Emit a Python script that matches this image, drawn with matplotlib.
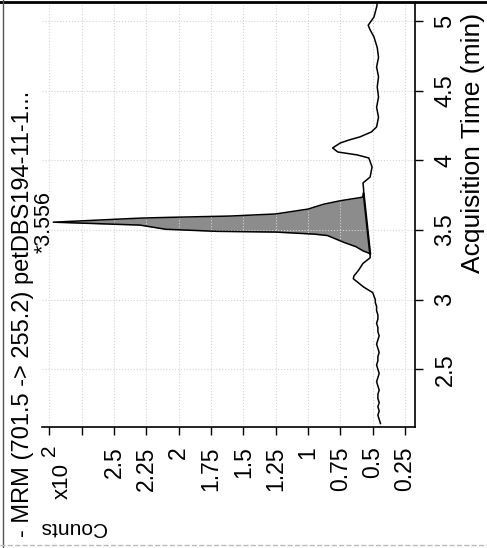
import matplotlib
matplotlib.use("Agg")
import matplotlib.pyplot as plt
from matplotlib.lines import Line2D
import numpy as np

plt.rcParams["font.family"] = ["Liberation Sans", "DejaVu Sans"]

# chromatogram trace (time in min, counts x10^2)
time_min = [2.11, 2.14, 2.17, 2.20, 2.23, 2.26, 2.29, 2.32, 2.35, 2.38,
            2.41, 2.44, 2.47, 2.50, 2.53, 2.56, 2.59, 2.62, 2.65, 2.68,
            2.71, 2.74, 2.77, 2.80, 2.83, 2.86, 2.89, 2.92, 2.95, 2.98,
            3.00, 3.05, 3.09, 3.12, 3.15, 3.17, 3.21, 3.26, 3.30,
            3.33, 3.35, 3.38, 3.41, 3.46, 3.47, 3.485, 3.49, 3.505, 3.535,
            3.556, 3.585, 3.59, 3.60, 3.615, 3.65, 3.685, 3.71, 3.735, 3.76,
            3.787, 3.838, 3.88, 3.953, 4.017, 4.039, 4.06, 4.089, 4.125, 4.147,
            4.168, 4.204, 4.24, 4.31, 4.38, 4.455, 4.527, 4.60, 4.67, 4.74,
            4.81, 4.886, 4.937, 4.97, 5.03, 5.10, 5.15]
counts = [0.44, 0.45, 0.46, 0.45, 0.46, 0.45, 0.46, 0.46, 0.45, 0.46,
          0.47, 0.46, 0.45, 0.46, 0.47, 0.46, 0.46, 0.45, 0.46, 0.47,
          0.46, 0.45, 0.46, 0.46, 0.47, 0.46, 0.46, 0.47, 0.47, 0.48,
          0.48, 0.50, 0.57, 0.61, 0.65, 0.645, 0.61, 0.575, 0.52,
          0.52, 0.575, 0.63, 0.72, 0.85, 0.95, 1.25, 1.70, 2.10, 2.30,
          2.97, 2.30, 2.10, 1.60, 1.25, 1.00, 0.88, 0.75, 0.58, 0.57,
          0.57, 0.575, 0.52, 0.505, 0.53, 0.62, 0.77, 0.81, 0.75, 0.68,
          0.60, 0.51, 0.47, 0.455, 0.47, 0.455, 0.465, 0.455, 0.47, 0.455,
          0.465, 0.49, 0.52, 0.535, 0.49, 0.47, 0.46]

peak_rt = 3.556
integ_start, integ_end = 3.33, 3.76

count_ticks = [0.25, 0.5, 0.75, 1, 1.25, 1.5, 1.75, 2, 2.25, 2.5, 2.75, 3]
count_labels = ["0.25", "0.5", "0.75", "1", "1.25", "1.5", "1.75", "2",
                "2.25", "2.5", "", ""]
time_ticks = [2.5, 3, 3.5, 4, 4.5, 5]
time_labels = ["2.5", "3", "3.5", "4", "4.5", "5"]

title = "- MRM (701.5 -> 255.2) petDBS194-11-1..."

W, H = 487, 548
fig = plt.figure(figsize=(W / 100, H / 100), dpi=100)
ax = fig.add_axes([42 / W, 1 - 427 / H, (415 - 42) / W, (427 - 3) / H])

t = np.array(time_min)
c = np.array(counts)

# integrated peak area
m = (t >= integ_start) & (t <= integ_end)
tb = t[m]
base = np.interp(tb, [integ_start, integ_end],
                 [np.interp(integ_start, t, c), np.interp(integ_end, t, c)])
ax.fill_betweenx(tb, c[m], base, color="#8c8c8c", lw=0)
ax.plot(base, tb, color="black", lw=1.6)

ax.plot(c, t, color="black", lw=1.1)

ax.set_xlim(3.057, 0.173)
ax.set_ylim(2.085, 5.13)

ax.spines["left"].set_visible(False)
ax.spines["top"].set_visible(False)
for s in ("bottom", "right"):
    ax.spines[s].set_linewidth(1.2)

ax.yaxis.tick_right()
ax.set_yticks(time_ticks)
ax.set_yticklabels(time_labels, rotation=90, va="center", fontsize=17)
ax.set_xticks(count_ticks)
ax.set_xticklabels(count_labels, rotation=90, fontsize=16.5)
ax.tick_params(axis="both", direction="out", length=6, width=1, pad=8)

ax.grid(True, linestyle=":", color="#d4d4d4", lw=0.8)

ax.text(2.955, peak_rt, "*" + f"{peak_rt:.3f}", rotation=90,
        ha="right", va="center", fontsize=15.5, clip_on=False)

fig.text(23 / W, 1 - 537 / H, title, rotation=90, ha="center", va="bottom",
         fontsize=17)
fig.text(473 / W, 1 - 143 / H, "Acquisition Time (min)", rotation=90,
         ha="center", va="center", fontsize=19)
fig.text(62 / W, 1 - 481 / H, "x10", rotation=90, ha="center", va="center",
         fontsize=16)
fig.text(50 / W, 1 - 450 / H, "2", rotation=90, ha="center", va="center",
         fontsize=15)
fig.text(73 / W, 1 - 527 / H, "Counts", rotation=180, ha="center",
         va="center", fontsize=15)

# scan border
fig.add_artist(Line2D([0, 1], [1 - 2 / H, 1 - 2 / H], color="black", lw=2))
fig.add_artist(Line2D([3 / W, 3 / W], [0, 1], color="#555555", lw=1))
fig.add_artist(Line2D([0, 1], [1 - 545 / H, 1 - 545 / H], color="#bbbbbb",
                      lw=1, ls="--"))

fig.savefig("out.png", dpi=100)
